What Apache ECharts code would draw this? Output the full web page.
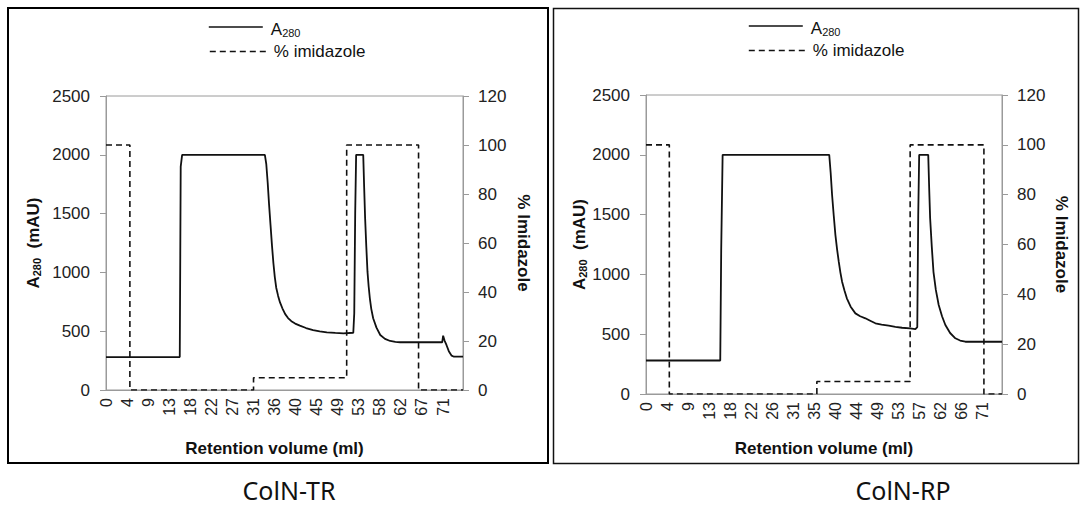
<!DOCTYPE html>
<html>
<head>
<meta charset="utf-8">
<script src="https://cdn.jsdelivr.net/npm/echarts@6/dist/echarts.min.js"></script>
<style>
html,body{margin:0;padding:0;background:#fff;}
#c{width:1080px;height:509px;}
</style>
</head>
<body>
<div id="c"></div>
<script>
// ---- data ----
const captions = ['ColN-TR', 'ColN-RP'];
const seriesNames = ['A280', '% imidazole'];

const xLabelsTR = ['0','4','9','13','18','22','27','31','36','40','45','49','53','58','62','67','71'];
const xLabelsRP = ['0','4','9','13','18','22','26','31','35','40','44','49','53','57','62','66','71'];
const xStepTR = 4.455, xMaxTR = 75.5;
const xStepRP = 4.414, xMaxRP = 74.8;

const yLeftTicks = [0, 2500, 500];   // min, max, interval (mAU)
const yRightTicks = [0, 120, 20];    // min, max, interval (%)

// A280 (mAU) vs retention volume (ml)
const a280TR = [
  [0,280],[15.6,280],[15.8,1900],[16.1,2000],[33.6,2000],[33.9,1920],[34.2,1760],[34.5,1570],
  [34.8,1400],[35.1,1230],[35.4,1080],[35.7,960],[36.0,870],[36.4,800],[36.8,745],[37.3,695],
  [37.9,645],[38.5,612],[39.2,585],[40.0,565],[41.0,547],[42.3,527],[43.8,510],[45.2,499],
  [46.7,490],[48.5,485],[50.2,482],[52.3,487],[52.5,650],[52.7,1500],[52.9,2000],[54.4,2000],
  [54.6,1720],[54.8,1460],[55.05,1220],[55.3,1006],[55.55,880],[55.8,780],[56.1,690],[56.5,610],
  [57.2,530],[58.0,468],[59.0,435],[60.1,417],[61.2,410],[62.2,406],[71.1,406],[71.3,462],
  [71.6,420],[72.0,383],[72.5,330],[73.1,292],[73.6,283],[75.5,283]
];
const a280RP = [
  [0,280],[15.6,280],[15.8,1200],[16.1,2000],[38.5,2000],[38.8,1850],[39.1,1664],[39.45,1490],
  [39.8,1329],[40.15,1210],[40.5,1106],[40.85,1015],[41.2,939],[41.7,865],[42.2,800],[43.0,730],
  [44.0,674],[45.0,650],[46.1,633],[47.0,615],[48.2,591],[49.5,580],[51.0,571],[52.4,562],
  [53.8,554],[55.5,548],[56.6,543],[57.0,560],[57.2,1500],[57.4,2000],[59.3,2000],[59.5,1720],
  [59.7,1469],[60.05,1230],[60.4,1022],[60.9,870],[61.5,744],[62.2,650],[62.9,577],[63.9,510],
  [65.0,466],[66.0,447],[67.1,437],[74.8,437]
];
// % imidazole step program
const imidTR = [
  [0,100],[5.05,100],[5.05,0],[31.2,0],[31.2,5],[50.9,5],[50.9,100],[66.1,100],[66.1,0],[75.5,0]
];
const imidRP = [
  [0,100],[4.9,100],[4.9,0],[35.9,0],[35.9,5],[55.5,5],[55.5,100],[71.0,100],[71.0,0],[74.8,0]
];

// ---- chart ----
const FONT = '"Liberation Sans", Arial, sans-serif';
const AXIS_GREY = '#9a9a9a';

function xFmt(labels, step) {
  return function (v) {
    const i = Math.round(v / step);
    if (Math.abs(v - i * step) > 0.01 || i >= labels.length) return '';
    return labels[i];
  };
}
function plainFmt(v) { return String(v); }

const chart = echarts.init(document.getElementById('c'), null, {renderer: 'svg'});

const grids = [
  {left: 106, top: 96, width: 357, height: 294},
  {left: 646, top: 95, width: 356, height: 299}
];

function xAxisFor(gi, labels, step, max, nameGap, namePad) {
  return {
    type: 'value', gridIndex: gi, min: 0, max: max, interval: step,
    name: 'Retention volume (ml)', nameLocation: 'middle', nameGap: nameGap,
    nameTextStyle: {fontFamily: FONT, fontWeight: 'bold', fontSize: 17, color: '#111', padding: namePad},
    axisLine: {show: true, lineStyle: {color: AXIS_GREY, width: 1}},
    axisTick: {show: false},
    splitLine: {show: false},
    axisLabel: {rotate: 90, margin: 8, fontFamily: FONT, fontSize: 16, color: '#222',
      formatter: xFmt(labels, step), showMinLabel: true, showMaxLabel: true, hideOverlap: false}
  };
}
function yLeftFor(gi, nameGap) {
  return {
    type: 'value', gridIndex: gi, position: 'left',
    min: yLeftTicks[0], max: yLeftTicks[1], interval: yLeftTicks[2],
    name: '{b|A}{s|280}{b|  (mAU)}', nameLocation: 'middle', nameGap: nameGap, nameRotate: 90,
    nameTextStyle: {rich: {
      b: {fontFamily: FONT, fontWeight: 'bold', fontSize: 17, color: '#111', lineHeight: 22, verticalAlign: 'bottom'},
      s: {fontFamily: FONT, fontWeight: 'bold', fontSize: 11, color: '#111', lineHeight: 10, verticalAlign: 'bottom'}
    }},
    axisLine: {show: true, lineStyle: {color: AXIS_GREY, width: 1}},
    axisTick: {show: true, inside: false, length: 6, lineStyle: {color: AXIS_GREY}},
    splitLine: {show: false},
    axisLabel: {margin: 16, fontFamily: FONT, fontSize: 17, color: '#222', formatter: plainFmt}
  };
}
function yRightFor(gi, nameGap) {
  return {
    type: 'value', gridIndex: gi, position: 'right',
    min: yRightTicks[0], max: yRightTicks[1], interval: yRightTicks[2],
    name: '% Imidazole', nameLocation: 'middle', nameGap: nameGap, nameRotate: -90,
    nameTextStyle: {fontFamily: FONT, fontWeight: 'bold', fontSize: 17, color: '#111'},
    axisLine: {show: true, lineStyle: {color: AXIS_GREY, width: 1}},
    axisTick: {show: true, inside: false, length: 6, lineStyle: {color: AXIS_GREY}},
    splitLine: {show: false},
    axisLabel: {margin: 15, fontFamily: FONT, fontSize: 17, color: '#222', formatter: plainFmt}
  };
}

function legendFor(name, left, top, w) {
  return {
    data: [name], left: left, top: top, orient: 'horizontal',
    itemWidth: w, itemHeight: 12, padding: 0,
    selectedMode: false,
    itemStyle: {opacity: 0, borderWidth: 0},
    lineStyle: {width: 1.6},
    textStyle: {fontFamily: FONT, fontSize: 17, color: '#111', padding: [0, 0, 0, 3],
      rich: {
        a: {fontFamily: FONT, fontSize: 17, color: '#111', lineHeight: 22, verticalAlign: 'bottom'},
        s: {fontFamily: FONT, fontSize: 11, color: '#111', lineHeight: 10, verticalAlign: 'bottom'}
      }},
    formatter: function (n) { return n === 'A280' ? '{a|A}{s|280}' : n; }
  };
}

function lineSeries(name, xi, yi, data, dashed) {
  return {
    name: name, type: 'line', xAxisIndex: xi, yAxisIndex: yi, data: data,
    showSymbol: false, symbol: 'none', animation: false,
    lineStyle: {color: '#111', width: dashed ? 1.6 : 1.8, type: dashed ? [6, 4] : 'solid'},
    itemStyle: {color: '#111'}
  };
}

const option = {
  backgroundColor: '#fff',
  animation: false,
  grid: grids.map(g => Object.assign({show: true, borderColor: AXIS_GREY, borderWidth: 1, backgroundColor: 'transparent'}, g)),
  xAxis: [
    xAxisFor(0, xLabelsTR, xStepTR, xMaxTR, 50, [0, 20, 0, 0]),
    xAxisFor(1, xLabelsRP, xStepRP, xMaxRP, 46, 0)
  ],
  yAxis: [yLeftFor(0, 64), yRightFor(0, 52), yLeftFor(1, 57), yRightFor(1, 51)],
  legend: [
    legendFor(seriesNames[0], 208, 21, 54),
    legendFor(seriesNames[1], 209, 43, 56),
    legendFor(seriesNames[0], 748, 20, 54),
    legendFor(seriesNames[1], 748, 42, 56)
  ],
  series: [
    lineSeries(seriesNames[0], 0, 0, a280TR, false),
    lineSeries(seriesNames[1], 0, 1, imidTR, true),
    lineSeries(seriesNames[0], 1, 2, a280RP, false),
    lineSeries(seriesNames[1], 1, 3, imidRP, true)
  ],
  graphic: [
    {type: 'rect', shape: {x: 8, y: 8, width: 540, height: 455}, style: {fill: 'none', stroke: '#000', lineWidth: 2}, silent: true},
    {type: 'rect', shape: {x: 553.5, y: 8.5, width: 525, height: 455}, style: {fill: 'none', stroke: '#111', lineWidth: 1.5}, silent: true},
    {type: 'text', x: 289, y: 490, style: {text: captions[0], align: 'center', verticalAlign: 'middle', fontSize: 25, fontFamily: '"Noto Sans", sans-serif', fill: '#111'}},
    {type: 'text', x: 903, y: 490, style: {text: captions[1], align: 'center', verticalAlign: 'middle', fontSize: 25, fontFamily: '"Noto Sans", sans-serif', fill: '#111'}}
  ]
};
chart.setOption(option);
</script>
</body>
</html>
